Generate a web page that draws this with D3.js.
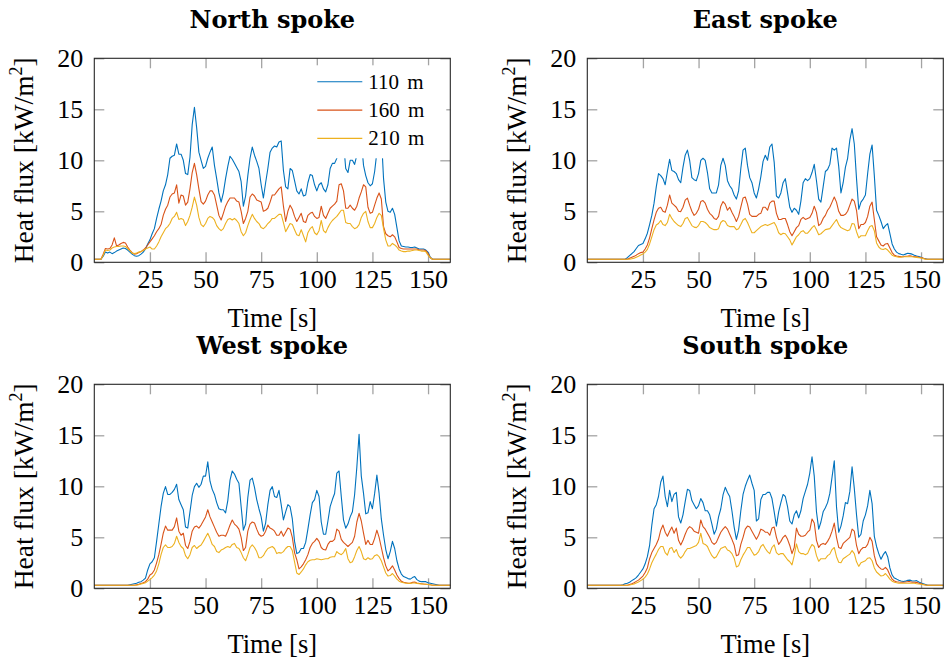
<!DOCTYPE html>
<html>
<head>
<meta charset="utf-8">
<script src="https://cdn.jsdelivr.net/npm/d3@7"></script>
<style>
  body { margin: 0; background: #fff; }
  text { font-family: "Liberation Serif", "Times New Roman", serif; fill: #000; }
</style>
</head>
<body>
<div id="chart"></div>
<script>
// time axis, one sample per second
var time = d3.range(0, 161);

var seriesNames = ['110 m', '160 m', '210 m'];
var xTicks = [25, 50, 75, 100, 125, 150];
var yTicks = [0, 5, 10, 15, 20];

var north110 = [0.3,0.3,0.3,0.3,0.6,1.0,0.9,1.0,0.85,0.95,
  1.1,1.2,1.3,1.4,1.35,1.2,1.0,0.8,0.65,0.6,
  0.65,0.8,1.0,1.3,1.8,2.2,2.8,3.3,4.3,5.2,
  6.0,7.0,7.6,8.6,10.2,10.4,10.5,11.6,10.6,10.6,
  10.0,8.7,8.6,10.3,13.5,15.2,13.2,10.8,10.0,9.2,
  9.4,10.2,10.8,11.3,9.5,8.2,6.8,5.9,6.8,8.2,
  9.4,10.4,10.1,9.7,9.3,8.9,7.9,5.5,6.5,8.5,
  10.2,11.3,10.5,9.9,9.2,7.6,6.3,7.8,9.2,10.8,
  11.2,11.4,11.3,11.8,11.9,9.0,7.4,7.2,9.2,9.0,
  8.0,7.0,6.7,7.2,6.5,6.6,7.8,8.6,8.5,7.6,
  7.0,7.6,7.8,7.2,6.9,7.6,9.2,9.7,9.7,10.2,
  11.5,12.5,11.8,9.2,8.8,10.0,10.0,9.6,10.5,11.2,
  12.0,9.5,8.5,7.8,7.5,7.7,8.9,10.8,13.0,12.5,
  8.2,5.9,5.0,4.9,5.3,4.7,3.4,2.1,1.6,1.55,
  1.5,1.5,1.45,1.45,1.5,1.4,1.3,1.3,1.3,1.2,
  1.0,0.5,0.3,0.3,0.3,0.3,0.3,0.3,0.3,0.3,
  0.3];
var north160 = [0.3,0.3,0.3,0.3,0.8,1.35,1.3,1.35,1.7,2.4,
  1.6,1.7,1.85,1.95,1.9,1.5,1.2,0.95,0.8,0.85,
  0.95,1.05,1.2,1.4,1.7,2.0,2.3,2.6,3.0,3.3,
  3.7,4.6,5.2,5.6,6.4,6.7,6.8,7.6,5.8,6.6,
  6.5,5.6,5.9,7.2,8.8,9.7,8.6,7.2,5.95,5.7,
  6.0,6.6,7.0,7.0,6.6,5.6,4.6,4.15,4.8,5.5,
  5.95,6.3,6.3,6.3,6.0,5.9,5.0,3.8,4.3,5.0,
  6.4,6.7,6.5,6.1,6.0,5.9,5.0,5.1,5.3,5.9,
  6.6,6.6,6.9,7.2,7.4,5.5,4.0,5.0,5.6,5.2,
  4.5,4.0,4.4,4.8,4.0,3.9,4.6,4.8,4.9,4.5,
  4.3,4.4,5.5,4.6,4.3,4.8,5.3,5.5,5.7,6.0,
  7.6,7.7,7.0,5.3,5.3,5.6,5.3,5.1,5.5,6.3,
  6.9,7.6,7.4,5.4,4.8,4.9,5.6,6.3,6.8,6.2,
  3.5,2.8,2.6,2.5,2.7,2.5,2.0,1.45,1.35,1.3,
  1.3,1.3,1.3,1.3,1.3,1.3,1.2,1.2,1.2,1.15,
  0.85,0.45,0.3,0.3,0.3,0.3,0.3,0.3,0.3,0.3,
  0.3];
var north210 = [0.3,0.3,0.3,0.3,0.7,1.2,1.15,1.2,1.4,1.5,
  1.55,1.55,1.6,1.6,1.55,1.35,1.15,0.9,0.85,0.9,
  1.0,1.05,1.15,1.3,1.4,1.5,1.3,1.3,1.6,2.0,
  2.5,2.9,3.3,3.5,3.8,4.3,4.5,4.9,4.2,4.3,
  4.2,3.6,4.0,4.6,5.4,6.4,5.6,4.4,3.7,3.5,
  3.8,4.3,4.5,4.4,4.15,3.6,3.3,3.1,3.3,3.8,
  4.2,4.3,4.15,4.3,4.1,3.8,3.0,2.6,2.9,3.6,
  4.2,4.7,4.3,4.0,3.8,3.4,3.3,3.5,3.8,4.0,
  4.3,4.3,4.5,4.7,4.7,3.9,3.0,3.4,3.8,3.7,
  3.2,2.7,2.6,3.2,2.6,2.0,2.9,3.3,3.5,2.9,
  2.7,3.1,4.1,3.1,2.9,3.4,3.8,4.1,4.3,4.5,
  4.8,5.1,5.1,3.9,3.8,3.8,3.5,3.3,3.4,3.7,
  4.4,4.8,5.0,4.0,3.4,3.4,3.8,4.4,4.8,4.6,
  3.3,2.2,1.6,1.6,1.85,1.7,1.5,1.2,1.1,1.05,
  1.05,1.1,1.1,1.15,1.2,1.2,1.15,1.1,1.1,1.05,
  0.7,0.45,0.3,0.3,0.3,0.3,0.3,0.3,0.3,0.3,
  0.3];

var east110 = [0.3,0.3,0.3,0.3,0.3,0.3,0.3,0.3,0.3,0.3,
  0.3,0.3,0.3,0.3,0.3,0.3,0.3,0.3,0.45,0.65,
  0.85,1.05,1.35,1.65,1.75,1.85,2.3,2.85,3.7,4.6,
  5.8,7.4,8.7,8.5,8.2,7.6,8.9,10.1,9.0,8.9,
  8.7,8.1,7.8,9.3,10.5,11.0,10.0,8.3,8.1,8.0,
  8.7,10.0,10.2,10.0,8.8,7.2,6.8,6.8,6.8,7.6,
  9.5,10.2,9.5,8.0,7.5,7.2,6.6,6.2,7.0,9.2,
  11.0,11.2,9.5,8.3,7.8,6.8,6.3,7.2,8.4,9.9,
  10.5,10.0,11.3,11.6,9.8,6.5,6.3,6.8,7.8,8.2,
  6.8,5.4,4.9,5.3,5.1,4.7,6.0,7.8,8.2,8.0,
  8.2,8.8,9.6,8.0,6.2,5.9,7.4,8.9,9.1,9.6,
  11.2,11.0,11.2,9.4,6.8,7.8,9.3,10.2,12.0,13.1,
  11.6,8.2,5.2,5.9,6.2,6.6,8.7,10.6,11.5,8.5,
  5.1,4.6,4.0,3.3,3.6,3.8,2.8,1.8,1.3,1.0,
  0.85,0.78,0.72,0.8,0.88,0.85,0.8,0.7,0.62,0.57,
  0.5,0.4,0.35,0.3,0.3,0.3,0.3,0.3,0.3,0.3,
  0.3];
var east160 = [0.3,0.3,0.3,0.3,0.3,0.3,0.3,0.3,0.3,0.3,
  0.3,0.3,0.3,0.3,0.3,0.3,0.3,0.3,0.3,0.4,
  0.5,0.58,0.7,0.85,0.95,1.0,1.3,1.7,2.4,3.3,
  4.15,4.9,5.3,5.4,5.0,4.9,5.6,6.6,5.8,5.6,
  5.4,5.0,4.97,5.4,6.1,6.3,5.6,5.0,4.6,4.8,
  5.2,5.95,6.05,5.8,5.2,4.8,4.6,4.3,4.2,4.5,
  5.5,5.95,5.7,5.1,5.4,4.9,4.5,4.0,4.5,5.4,
  6.3,6.4,5.7,4.7,4.5,4.5,4.5,4.7,4.8,5.4,
  5.4,5.1,5.8,6.0,6.0,4.8,4.2,4.2,4.3,4.3,
  3.7,3.0,2.6,3.0,3.4,3.6,4.2,4.4,4.2,4.3,
  4.4,4.8,5.5,4.9,3.6,3.8,4.3,4.6,5.1,5.4,
  5.9,6.4,5.9,5.0,4.6,4.6,4.7,5.0,5.6,6.2,
  6.0,5.1,3.3,3.7,3.7,3.9,4.5,5.5,5.9,4.2,
  2.5,2.1,1.7,1.6,1.8,1.85,1.4,0.95,0.7,0.62,
  0.58,0.55,0.55,0.6,0.62,0.65,0.6,0.57,0.55,0.5,
  0.46,0.4,0.33,0.3,0.3,0.3,0.3,0.3,0.3,0.3,
  0.3];
var east210 = [0.3,0.3,0.3,0.3,0.3,0.3,0.3,0.3,0.3,0.3,
  0.3,0.3,0.3,0.3,0.3,0.3,0.3,0.3,0.3,0.3,
  0.35,0.4,0.5,0.6,0.72,0.82,1.0,1.27,1.8,2.5,
  3.2,3.66,3.8,4.1,3.7,3.6,3.9,4.7,4.3,4.0,
  3.8,3.6,3.5,3.8,4.3,4.4,4.0,3.6,3.45,3.4,
  3.6,4.0,4.0,3.9,3.7,3.4,3.3,3.2,3.2,3.3,
  3.9,4.1,4.0,3.6,3.5,3.5,3.5,3.2,3.3,3.7,
  4.15,4.3,3.9,3.4,2.9,2.9,3.1,3.3,3.5,3.6,
  3.7,3.6,3.7,3.8,3.9,3.5,2.9,2.7,2.85,2.8,
  2.5,2.2,1.7,2.1,2.5,2.7,3.0,3.1,2.85,2.85,
  3.1,3.4,3.6,3.2,2.7,2.8,3.0,3.2,3.25,3.3,
  3.6,3.9,4.2,3.7,3.4,3.3,3.2,3.1,3.2,3.8,
  3.75,3.0,2.4,2.6,2.6,2.6,3.1,3.5,3.6,3.1,
  1.9,1.5,1.3,1.25,1.35,1.2,0.95,0.7,0.6,0.55,
  0.5,0.5,0.55,0.55,0.55,0.55,0.55,0.5,0.48,0.45,
  0.42,0.36,0.3,0.3,0.3,0.3,0.3,0.3,0.3,0.3,
  0.3];

var west110 = [0.3,0.3,0.3,0.3,0.3,0.3,0.3,0.3,0.3,0.3,
  0.3,0.3,0.3,0.3,0.3,0.3,0.35,0.4,0.45,0.5,
  0.6,0.65,0.8,1.0,1.8,2.4,2.6,3.0,4.6,6.3,
  8.0,9.3,9.97,9.2,9.2,9.4,9.7,10.2,8.7,8.2,
  7.7,6.0,5.9,7.5,9.1,9.97,10.3,9.9,10.2,11.0,
  11.0,12.4,10.5,9.7,9.2,8.4,7.8,7.7,7.7,7.4,
  8.6,10.6,11.5,11.2,10.7,10.3,8.0,5.7,6.3,8.9,
  10.6,10.8,9.9,8.7,7.8,7.0,5.6,6.4,8.2,9.6,
  9.97,9.0,8.9,9.6,8.2,6.7,7.5,8.2,8.0,6.8,
  4.6,3.4,3.5,3.9,3.9,4.5,5.8,7.2,8.4,8.7,
  9.6,9.0,6.5,5.3,5.3,6.6,8.0,8.7,9.3,11.3,
  11.5,9.0,6.7,5.9,6.3,7.0,7.5,9.2,11.9,15.1,
  11.0,9.3,7.3,7.4,8.5,7.8,9.3,11.1,9.3,6.8,
  5.2,3.8,2.9,3.6,4.6,3.9,2.7,1.9,1.4,1.15,
  1.05,0.95,0.9,1.05,1.15,0.85,0.7,0.65,0.65,0.65,
  0.55,0.5,0.45,0.4,0.35,0.3,0.3,0.3,0.3,0.3,
  0.3];
var west160 = [0.3,0.3,0.3,0.3,0.3,0.3,0.3,0.3,0.3,0.3,
  0.3,0.3,0.3,0.3,0.3,0.3,0.3,0.3,0.3,0.35,
  0.4,0.48,0.55,0.65,0.9,1.3,1.45,1.8,2.5,3.3,
  4.3,5.4,6.1,5.7,5.7,5.7,6.05,6.9,5.6,5.2,
  5.4,4.2,3.9,4.6,5.6,6.0,6.1,5.9,6.2,6.6,
  7.0,7.7,7.0,6.5,6.0,5.5,5.1,5.2,5.2,5.1,
  5.6,6.2,6.7,6.3,6.1,5.8,5.0,3.7,4.0,5.6,
  6.3,6.5,6.4,5.8,5.3,5.1,5.2,5.6,6.2,5.9,
  5.8,5.6,5.2,5.2,5.6,5.1,5.5,5.9,5.8,5.0,
  3.5,2.8,1.9,2.1,2.4,2.8,3.3,4.0,4.4,4.6,
  4.9,4.6,4.0,3.8,3.75,4.3,4.6,4.6,4.8,5.8,
  5.6,4.8,4.5,4.3,4.1,4.3,4.5,5.1,6.5,7.35,
  6.6,5.4,4.3,4.7,4.3,4.3,4.9,5.7,5.0,4.0,
  3.0,2.2,1.7,1.9,2.2,1.8,1.3,0.95,0.7,0.6,
  0.55,0.5,0.5,0.58,0.62,0.52,0.48,0.45,0.42,0.4,
  0.38,0.35,0.3,0.3,0.3,0.3,0.3,0.3,0.3,0.3,
  0.3];
var west210 = [0.3,0.3,0.3,0.3,0.3,0.3,0.3,0.3,0.3,0.3,
  0.3,0.3,0.3,0.3,0.3,0.3,0.3,0.3,0.3,0.3,
  0.35,0.42,0.48,0.55,0.7,0.85,1.05,1.3,1.7,2.4,
  3.3,4.0,4.25,4.0,4.0,4.1,4.4,5.1,4.5,4.1,
  3.9,3.2,2.9,3.3,4.0,4.2,3.9,4.1,4.25,4.6,
  5.0,5.4,4.9,4.3,4.1,3.6,3.5,3.75,3.85,4.0,
  4.1,4.0,4.3,4.4,4.0,3.9,3.5,3.0,2.7,3.3,
  4.0,4.25,4.0,3.6,3.0,3.0,3.2,3.6,3.9,4.0,
  4.1,3.9,3.4,3.5,3.45,3.6,3.9,4.1,4.1,3.7,
  2.6,1.5,1.35,1.6,1.9,2.3,2.6,2.75,2.8,2.8,
  2.9,2.85,2.8,2.85,2.9,2.9,3.05,3.1,3.1,3.6,
  3.4,3.3,3.5,3.9,2.9,2.5,2.6,3.1,3.7,4.1,
  3.6,2.9,2.8,3.0,2.85,2.9,3.2,3.3,3.1,2.7,
  2.1,1.5,1.2,1.25,1.45,1.2,0.9,0.7,0.6,0.55,
  0.5,0.5,0.48,0.52,0.52,0.48,0.45,0.43,0.42,0.4,
  0.38,0.35,0.3,0.3,0.3,0.3,0.3,0.3,0.3,0.3,
  0.3];

var south110 = [0.3,0.3,0.3,0.3,0.3,0.3,0.3,0.3,0.3,0.3,
  0.3,0.3,0.3,0.3,0.3,0.3,0.35,0.45,0.5,0.6,
  0.75,0.88,1.05,1.3,1.6,1.9,2.4,3.1,4.2,6.2,
  7.8,8.2,9.0,10.4,11.0,9.0,8.0,9.6,8.5,9.2,
  9.4,7.0,6.4,7.2,8.5,9.7,9.6,8.6,8.2,7.8,
  8.1,8.8,8.4,7.6,7.6,7.2,6.3,5.3,5.8,7.0,
  7.8,9.15,9.9,9.4,9.0,7.6,6.0,4.8,5.7,7.6,
  9.2,10.0,10.6,11.1,10.3,9.6,6.6,6.8,8.7,9.2,
  9.2,9.4,9.4,8.8,7.5,6.1,7.5,8.4,9.2,9.0,
  8.0,6.6,6.3,7.2,7.6,6.9,7.6,8.8,9.5,10.2,
  11.3,12.9,11.0,7.5,5.8,6.5,7.5,7.9,8.4,9.3,
  10.9,12.5,8.0,5.5,6.1,7.1,8.4,8.3,9.5,11.9,
  9.8,7.2,5.0,5.3,6.6,7.2,8.1,9.6,8.3,5.1,
  4.1,3.4,2.85,3.3,3.6,3.1,2.0,1.3,1.0,0.9,
  0.78,0.72,0.67,0.7,0.78,0.8,0.72,0.72,0.75,0.62,
  0.52,0.45,0.38,0.3,0.3,0.3,0.3,0.3,0.3,0.3,
  0.3];
var south160 = [0.3,0.3,0.3,0.3,0.3,0.3,0.3,0.3,0.3,0.3,
  0.3,0.3,0.3,0.3,0.3,0.3,0.3,0.3,0.3,0.38,
  0.45,0.55,0.68,0.8,1.0,1.2,1.55,2.0,2.9,3.5,
  3.9,4.3,4.8,5.7,6.2,5.5,5.1,5.6,6.0,5.4,
  5.9,4.7,4.25,4.7,5.3,5.8,6.05,5.9,5.6,5.5,
  5.4,6.7,6.05,5.8,5.4,5.0,4.5,4.3,4.5,5.0,
  5.5,5.8,6.05,5.8,5.3,4.8,4.25,3.2,3.3,4.3,
  5.0,5.8,6.1,6.0,5.6,5.2,4.8,5.2,5.8,5.7,
  5.5,5.5,5.2,5.9,6.0,5.0,4.3,4.6,5.0,5.2,
  4.8,4.2,3.4,4.0,5.9,5.3,5.1,5.1,5.2,5.5,
  5.7,6.8,6.4,4.7,4.0,4.3,4.4,4.3,4.6,5.0,
  5.6,6.4,5.0,4.0,3.9,4.4,4.6,4.8,5.0,5.8,
  5.6,4.2,3.4,3.8,4.0,4.0,4.3,5.0,4.6,3.2,
  2.4,2.1,1.9,1.85,2.05,1.8,1.3,0.9,0.72,0.65,
  0.62,0.6,0.6,0.62,0.65,0.65,0.6,0.6,0.58,0.5,
  0.44,0.38,0.33,0.3,0.3,0.3,0.3,0.3,0.3,0.3,
  0.3];
var south210 = [0.3,0.3,0.3,0.3,0.3,0.3,0.3,0.3,0.3,0.3,
  0.3,0.3,0.3,0.3,0.3,0.3,0.3,0.3,0.3,0.33,
  0.38,0.42,0.52,0.62,0.75,0.88,1.1,1.4,1.9,2.5,
  2.95,3.35,3.8,4.1,4.1,3.5,3.25,3.9,4.0,3.5,
  3.8,3.2,2.95,3.2,3.6,3.9,3.9,4.0,4.1,4.2,
  4.5,5.4,4.4,4.3,4.1,3.6,3.2,2.95,3.1,3.5,
  3.9,4.0,4.1,3.75,3.65,3.4,2.95,2.1,2.2,2.8,
  3.25,3.6,4.0,4.0,3.6,3.25,3.35,3.6,4.1,4.3,
  3.9,3.6,3.4,4.0,4.25,3.5,3.3,3.4,3.4,3.1,
  2.8,2.6,2.3,3.2,4.35,3.6,3.4,3.4,3.3,3.4,
  3.9,4.3,4.1,3.2,2.65,2.9,2.9,2.9,3.2,3.35,
  3.8,4.0,3.1,2.55,2.5,2.9,3.05,3.2,3.35,3.7,
  3.4,2.6,2.15,2.5,2.6,2.7,2.95,3.0,2.7,2.0,
  1.6,1.4,1.2,1.25,1.45,1.2,0.9,0.7,0.6,0.55,
  0.5,0.5,0.5,0.5,0.5,0.5,0.5,0.5,0.45,0.42,
  0.4,0.36,0.32,0.3,0.3,0.3,0.3,0.3,0.3,0.3,
  0.3];

var colors = ['#0072bd', '#d95319', '#edb120'];

var panels = [
  { title: 'North spoke', left: 94.3, top: 58.3, series: [north110, north160, north210], legend: true },
  { title: 'East spoke', left: 587.3, top: 58.3, series: [east110, east160, east210] },
  { title: 'West spoke', left: 94.3, top: 384.3, series: [west110, west160, west210] },
  { title: 'South spoke', left: 587.3, top: 384.3, series: [south110, south160, south210] }
];

var pw = 356, ph = 204;

var svg = d3.select('#chart')
  .append('svg')
  .attr('width', 944)
  .attr('height', 664);

var x = d3.scaleLinear().domain([0, 160]).range([0, pw]);
var y = d3.scaleLinear().domain([0, 20]).range([ph, 0]);

var line = d3.line()
  .x((d, i) => x(time[i]))
  .y(d => y(d));

function styleAxis(sel) {
  sel.select('.domain').remove();
  sel.attr('font-family', null).attr('font-size', null);
  sel.selectAll('.tick line').attr('stroke', '#a3a3a3').attr('stroke-width', 1.3);
  sel.selectAll('.tick text').style('font-size', '26px');
}

panels.forEach(p => {
  var g = svg.append('g').attr('transform', 'translate(' + p.left + ',' + p.top + ')');

  // ticks on all four sides, pointing inwards
  g.append('g')
    .attr('transform', 'translate(0,' + ph + ')')
    .call(d3.axisBottom(x).tickValues(xTicks).tickSizeInner(-10).tickSizeOuter(0).tickPadding(7))
    .call(styleAxis);
  g.append('g')
    .call(d3.axisTop(x).tickValues(xTicks).tickSizeInner(-10).tickSizeOuter(0).tickFormat(''))
    .call(styleAxis);
  g.append('g')
    .call(d3.axisLeft(y).tickValues(yTicks).tickSizeInner(-10).tickSizeOuter(0).tickPadding(11))
    .call(styleAxis);
  g.append('g')
    .attr('transform', 'translate(' + pw + ',0)')
    .call(d3.axisRight(y).tickValues(yTicks).tickSizeInner(-10).tickSizeOuter(0).tickFormat(''))
    .call(styleAxis);

  p.series.forEach((s, i) => {
    g.append('path')
      .datum(s)
      .attr('fill', 'none')
      .attr('stroke', colors[i])
      .attr('stroke-width', 1.1)
      .attr('stroke-linejoin', 'round')
      .attr('d', line);
  });

  if (p.legend) {
    var lg = g.append('g').attr('transform', 'translate(217,7)');
    lg.append('rect')
      .attr('width', 135).attr('height', 93)
      .attr('fill', '#fff');
    seriesNames.forEach((name, i) => {
      var row = 16.5 + i * 28.3;
      lg.append('line')
        .attr('x1', 6).attr('x2', 51)
        .attr('y1', row).attr('y2', row)
        .attr('stroke', colors[i]).attr('stroke-width', 1.1);
      lg.append('text')
        .attr('x', 57).attr('y', row + 7)
        .style('font-size', '21px')
        .style('word-spacing', '3px')
        .text(name);
    });
  }

  g.append('rect')
    .attr('width', pw).attr('height', ph)
    .attr('fill', 'none')
    .attr('stroke', '#262626')
    .attr('stroke-width', 1.1);

  g.append('text')
    .attr('x', pw / 2).attr('y', -30)
    .attr('text-anchor', 'middle')
    .style('font-family', '"DejaVu Serif", serif')
    .style('font-weight', 'bold')
    .style('font-size', '24px')
    .text(p.title);

  g.append('text')
    .attr('x', pw / 2).attr('y', ph + 64.5)
    .attr('text-anchor', 'middle')
    .style('font-size', '26.5px')
    .text('Time [s]');

  var yl = g.append('text')
    .attr('transform', 'translate(-61,' + (ph / 2) + ') rotate(-90)')
    .attr('text-anchor', 'middle')
    .style('font-size', '27.5px');
  yl.append('tspan').text('Heat flux [kW/m');
  yl.append('tspan').attr('dy', -11).style('font-size', '18px').text('2');
  yl.append('tspan').attr('dy', 11).text(']');
});
</script>
</body>
</html>
